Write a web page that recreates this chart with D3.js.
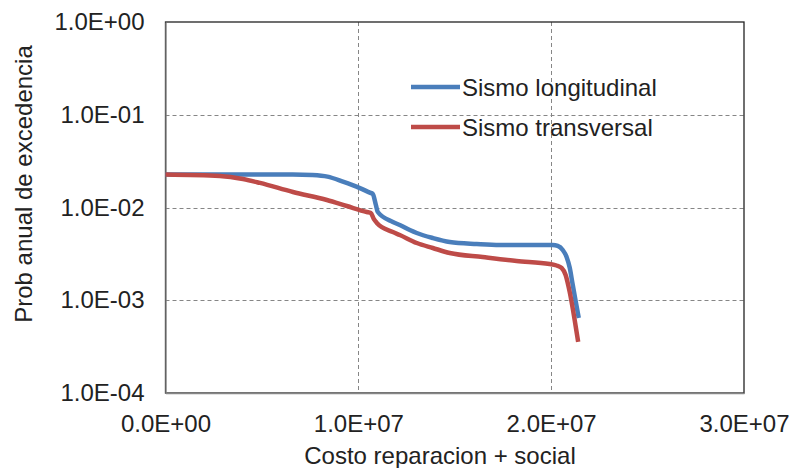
<!DOCTYPE html>
<html>
<head>
<meta charset="utf-8">
<script src="https://cdn.jsdelivr.net/npm/d3@7"></script>
<style>
  body { margin: 0; background: #fff; }
  svg { display: block; font-family: "Liberation Sans", Arial, sans-serif; }
</style>
</head>
<body>
<svg id="chart" width="792" height="468"></svg>
<script>
// Sismo longitudinal (costo, prob)
const longCost = [0, 6.6e6, 7.6e6, 8.4e6, 9.2e6, 1.008e7, 1.06e7, 1.075e7, 1.091e7, 1.101e7, 1.179e7, 1.215e7, 1.267e7, 1.303e7, 1.386e7, 1.474e7, 1.614e7, 1.733e7, 2.008e7, 2.034e7, 2.06e7, 2.08e7, 2.096e7, 2.111e7, 2.127e7, 2.143e7]
const longProb = [0.0227, 0.0227, 0.0224, 0.0215, 0.019, 0.0162, 0.01445, 0.014, 0.01064, 0.00894, 0.00698, 0.00648, 0.00572, 0.00531, 0.00469, 0.00425, 0.00404, 0.00394, 0.00394, 0.00385, 0.00348, 0.00293, 0.00225, 0.0015, 0.00098, 0.000644]

// Sismo transversal
const transCost = [0, 2.82e6, 4.02e6, 4.9e6, 6.61e6, 8.37e6, 9.4e6, 1.044e7, 1.065e7, 1.08e7, 1.096e7, 1.179e7, 1.215e7, 1.303e7, 1.386e7, 1.474e7, 1.645e7, 1.821e7, 1.992e7, 2.028e7, 2.054e7, 2.075e7, 2.096e7, 2.122e7, 2.14e7]
const transProb = [0.0227, 0.0219, 0.0203, 0.0184, 0.01469, 0.01205, 0.01038, 0.00894, 0.00873, 0.00752, 0.00681, 0.00544, 0.00505, 0.00414, 0.00366, 0.00323, 0.00292, 0.00265, 0.00246, 0.00237, 0.00223, 0.00187, 0.00123, 0.000612, 0.000355]

const seriesNames = ['Sismo longitudinal', 'Sismo transversal']
const seriesColors = ['#4a7ebb', '#be4b48']
const xTicks = [0, 1e7, 2e7, 3e7]
const yTicks = [1, 1e-1, 1e-2, 1e-3, 1e-4]

const fmtE = v => {
  if (v === 0) return '0.0E+00'
  const e = Math.floor(Math.log10(v) + 1e-9)
  const m = v / Math.pow(10, e)
  return m.toFixed(1) + 'E' + (e < 0 ? '-' : '+') + String(Math.abs(e)).padStart(2, '0')
}

const plotL = 165.5, plotR = 744, plotT = 22, plotB = 393
const svg = d3.select('#chart')

const x = d3.scaleLinear([0, 3e7], [plotL, plotR])
const y = d3.scaleLog([1e-4, 1], [plotB, plotT])

// grid
const grid = svg.append('g').attr('stroke', '#868686').attr('stroke-dasharray', '4,3')
grid.selectAll('.hg').data(yTicks.slice(1, -1)).join('line')
  .attr('x1', plotL).attr('x2', plotR)
  .attr('y1', d => Math.round(y(d)) + 0.5).attr('y2', d => Math.round(y(d)) + 0.5)
grid.selectAll('.vg').data(xTicks.slice(1, -1)).join('line')
  .attr('y1', plotT).attr('y2', plotB)
  .attr('x1', d => Math.round(x(d)) + 0.5).attr('x2', d => Math.round(x(d)) + 0.5)

// plot frame
svg.append('rect')
  .attr('x', plotL).attr('y', plotT)
  .attr('width', plotR - plotL).attr('height', plotB - plotT)
  .attr('fill', 'none').attr('stroke', '#222').attr('stroke-width', 1.3)

const xAxis = d3.axisBottom(x).tickValues(xTicks).tickFormat(fmtE).tickSize(0).tickPadding(22)
const yAxis = d3.axisLeft(y).tickValues(yTicks).tickFormat(fmtE).tickSize(0).tickPadding(21)

svg.append('g')
  .attr('transform', `translate(0,${plotB})`)
  .call(xAxis)
  .call(g => g.select('.domain').attr('stroke', '#868686').attr('stroke-width', 1.3))
  .call(g => g.selectAll('text').attr('font-size', 24).attr('fill', '#222').attr('font-family', 'Liberation Sans, Arial'))

svg.append('g')
  .attr('transform', `translate(${plotL},0)`)
  .call(yAxis)
  .call(g => g.select('.domain').attr('stroke', '#868686').attr('stroke-width', 1.3))
  .call(g => g.selectAll('text').attr('font-size', 24).attr('fill', '#222').attr('font-family', 'Liberation Sans, Arial'))

// lines
const line = d3.line().x(d => x(d[0])).y(d => y(d[1])).curve(d3.curveMonotoneX)
const series = [
  d3.zip(longCost, longProb),
  d3.zip(transCost, transProb)
]
svg.append('g').selectAll('path').data(series).join('path')
  .attr('d', line)
  .attr('fill', 'none')
  .attr('stroke', (d, i) => seriesColors[i])
  .attr('stroke-width', 4.5)
  .attr('stroke-linejoin', 'round')

// legend
const legend = svg.append('g').selectAll('g').data(seriesNames).join('g')
  .attr('transform', (d, i) => `translate(411,${87 + i * 40})`)
legend.append('line')
  .attr('x1', 0).attr('x2', 49)
  .attr('stroke', (d, i) => seriesColors[i]).attr('stroke-width', 4.5)
legend.append('text')
  .attr('x', 51).attr('y', 8.5)
  .attr('font-size', 24).attr('fill', '#222')
  .text(d => d)

// axis titles
svg.append('text')
  .attr('x', 440).attr('y', 464)
  .attr('text-anchor', 'middle').attr('font-size', 24).attr('fill', '#222')
  .text('Costo reparacion + social')
svg.append('text')
  .attr('transform', 'translate(32,184) rotate(-90)')
  .attr('text-anchor', 'middle').attr('font-size', 24).attr('fill', '#222')
  .text('Prob anual de excedencia')
</script>
</body>
</html>
